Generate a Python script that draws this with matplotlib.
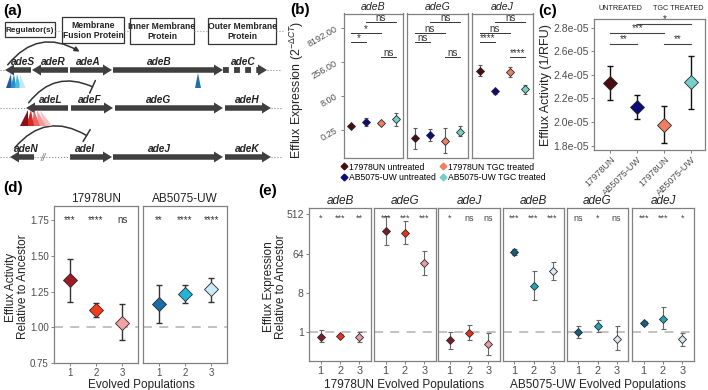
import matplotlib
matplotlib.use("Agg")

import matplotlib.pyplot as plt
from matplotlib import font_manager
from matplotlib.lines import Line2D
from matplotlib.patches import FancyArrow, FancyArrowPatch, Polygon, Rectangle, ArrowStyle

plt.rcParams["font.family"] = ["Liberation Sans", "DejaVu Sans"]
plt.rcParams["mathtext.fontset"] = "custom"
plt.rcParams["mathtext.rm"] = "Liberation Sans"
plt.rcParams["mathtext.it"] = "Liberation Sans:italic"

installed = {f.name for f in font_manager.fontManager.ttflist}
NARROW = "Liberation Sans Narrow" if "Liberation Sans Narrow" in installed else "Liberation Sans"
NARROW_SCALE = 1.0 if NARROW != "Liberation Sans" else 0.85

W, H = 708, 390

# ---------------- (a) operon schematic ----------------
BOX_LABELS = ["Regulator(s)", "Membrane\nFusion Protein", "Inner Membrane\nProtein", "Outer Membrane\nProtein"]
# (gene, arrow start, arrow end, label x)
ROW_ADEABC = [("adeS", 31, 5, 23), ("adeR", 68, 32, 53), ("adeA", 70, 112, 88), ("adeB", 113, 223, 159)]
ROW_ADEFGH = [("adeL", 68, 26, 51), ("adeF", 71, 113, 90), ("adeG", 115, 223, 159), ("adeH", 225, 271, 247)]
ROW_ADEIJK = [("adeN", 34, 10, 26), ("adeI", 70, 112, 85), ("adeJ", 113, 223, 159), ("adeK", 225, 271, 247)]
ADES_MUT_COLORS = ["#1F5C9E", "#2B8FCB", "#45BEDD", "#C6E6F6"]
ADEL_MUT_COLORS = ["#8C0F1C", "#D42A22", "#EE6464", "#F59B9B", "#F7C2C2"]

# ---------------- (b) expression in ancestors ----------------
B_GROUPS = ["17978UN untreated", "AB5075-UW untreated", "17978UN TGC treated", "AB5075-UW TGC treated"]
B_COLORS = ["#4A0C10", "#0B0B7A", "#EE7F62", "#76CFCB"]
B_GENES = ["adeB", "adeG", "adeJ"]
B_ADEB_MEAN = [0.38, 0.58, 0.52, 0.74]
B_ADEB_LO = [0.33, 0.38, 0.47, 0.38]
B_ADEB_HI = [0.43, 0.83, 0.58, 1.41]
B_ADEG_MEAN = [0.11, 0.15, 0.083, 0.21]
B_ADEG_LO = [0.036, 0.083, 0.024, 0.134]
B_ADEG_HI = [0.31, 0.27, 0.31, 0.38]
B_ADEJ_MEAN = [103, 12.9, 92, 16]
B_ADEJ_LO = [60, 9.8, 56, 9.8]
B_ADEJ_HI = [181, 17.1, 147, 24]
B_PAIRS = [(1, 2), (1, 3), (2, 4), (3, 4)]
B_PAIR_Y = [1910, 4700, 15280, 416]
B_SIG = {"adeB": ["*", "*", "ns", "ns"],
         "adeG": ["ns", "ns", "ns", "ns"],
         "adeJ": ["****", "ns", "ns", "****"]}
B_TICKS = [0.25, 8, 256, 8192]
B_TICKLABELS = ["0.25", "8.00", "256.00", "8192.00"]

# ---------------- (c) efflux activity ----------------
C_LABELS = ["17978UN", "AB5075-UW", "17978UN", "AB5075-UW"]
C_MEAN = [2.333e-5, 2.131e-5, 1.976e-5, 2.338e-5]
C_LO = [2.187e-5, 2.030e-5, 1.823e-5, 2.114e-5]
C_HI = [2.478e-5, 2.229e-5, 2.136e-5, 2.556e-5]
C_PAIRS = [(1, 2), (3, 4), (1, 3), (2, 4)]
C_PAIR_Y = [2.66e-5, 2.66e-5, 2.758e-5, 2.831e-5]
C_SIG = ["**", "**", "***", "*"]

# ---------------- (d) relative efflux activity ----------------
D_STRAINS = ["17978UN", "AB5075-UW"]
D_POPS = [1, 2, 3]
D_UN_MEAN = [1.330, 1.121, 1.032]
D_UN_LO = [1.175, 1.074, 0.911]
D_UN_HI = [1.482, 1.172, 1.160]
D_UW_MEAN = [1.163, 1.233, 1.265]
D_UW_LO = [1.028, 1.168, 1.179]
D_UW_HI = [1.295, 1.295, 1.349]
D_UN_SIG = ["***", "****", "ns"]
D_UW_SIG = ["**", "****", "****"]
UN_COLORS_D = ["#9E1A24", "#F23C1C", "#F4A1A4"]
UW_COLORS_D = ["#1B6DAA", "#26B3D8", "#CBE9F8"]

# ---------------- (e) relative expression ----------------
E_GENES = ["adeB", "adeG", "adeJ"]
E_UN_ADEB = ([0.79, 0.83, 0.79], [0.59, 0.78, 0.58], [1.09, 0.90, 1.0])
E_UN_ADEG = ([212, 190, 39], [99, 105, 21], [461, 355, 72])
E_UN_ADEJ = ([0.64, 0.97, 0.54], [0.41, 0.66, 0.30], [1.0, 1.47, 0.95])
E_UW_ADEB = ([69, 11.3, 25], [58, 5.4, 15.6], [82, 25, 40])
E_UW_ADEG = ([1.0, 1.40, 0.69], [0.73, 1.0, 0.38], [1.35, 1.92, 1.35])
E_UW_ADEJ = ([1.61, 2.03, 0.69], [1.42, 1.17, 0.49], [1.83, 3.68, 0.95])
E_UN_SIG = [["*", "***", "**"], ["***", "***", "***"], ["*", "ns", "ns"]]
E_UW_SIG = [["***", "***", "***"], ["ns", "*", "ns"], ["***", "***", "*"]]
UN_COLORS_E = ["#7B1C2C", "#E8321F", "#E89AA5"]
UW_COLORS_E = ["#14607F", "#24A5B5", "#DCE9F2"]
E_TICKS = [1, 8, 64, 512]

BORDER = "#808080"
TICKCOL = "#4D4D4D"
EDGE = "#2A2A2A"

fig = plt.figure(figsize=(W / 100, H / 100), dpi=100)


def px_axes(x0, y0, x1, y1):
    return fig.add_axes([x0 / W, 1 - y1 / H, (x1 - x0) / W, (y1 - y0) / H])


def ftext(x, y, s, **kw):
    return fig.text(x / W, 1 - y / H, s, **kw)


def style_panel(ax, show_y=True, labelsize=7.5):
    for sp in ax.spines.values():
        sp.set_color(BORDER)
        sp.set_linewidth(0.9)
    ax.tick_params(colors=BORDER, labelcolor=TICKCOL, length=2.5, width=0.7,
                   labelsize=labelsize, pad=1.2)
    if not show_y:
        ax.tick_params(axis="y", left=False, labelleft=False)
    ax.minorticks_off()


def diamonds(ax, x, mean, lo, hi, colors, ms, ecolor, capsize, elw=0.9):
    yerr = [[m - l for m, l in zip(mean, lo)], [h - m for m, h in zip(mean, hi)]]
    ax.errorbar(x, mean, yerr=yerr, fmt="none", ecolor=ecolor, elinewidth=elw,
                capsize=capsize, capthick=elw, zorder=2)
    for xi, yi, c in zip(x, mean, colors):
        ax.plot([xi], [yi], marker="D", ms=ms, mfc=c, mec=EDGE, mew=0.6, ls="none", zorder=3)


# ================= (a) =================
axa = px_axes(0, 0, 290, 178)
axa.set_xlim(0, 290)
axa.set_ylim(178, 0)
axa.axis("off")

box_pos = [(5, 22, 55, 37), (62, 17, 124, 43), (130, 18, 194, 44), (208, 18, 276, 44)]
for (x0, y0, x1, y1), lab in zip(box_pos, BOX_LABELS):
    axa.add_patch(Rectangle((x0, y0), x1 - x0, y1 - y0, fill=False, ec="#333333", lw=0.9))
    size = 6.9 if "\n" not in lab else 7.3
    axa.text((x0 + x1) / 2, (y0 + y1) / 2 + 0.5, lab, ha="center", va="center", family=NARROW,
             fontsize=size * NARROW_SCALE, fontweight="bold", color="#222222", linespacing=1.15)
for xa, xb in [(55, 62), (124, 130), (194, 208), (276, 284)]:
    axa.plot([xa, xb], [31, 31], ls=":", color="#999999", lw=0.8)


def gene_row(rows, y, label_dy=-8):
    for name, xs, xe, lx in rows:
        axa.add_patch(FancyArrow(xs, y, xe - xs, 0, width=5.5, head_width=11, head_length=9,
                                 length_includes_head=True, color="#3F3F3F", lw=0))
        axa.text(lx, y + label_dy, name, ha="center", va="center",
                 fontsize=7.3, fontstyle="italic", fontweight="bold", color="#222222")


gene_row(ROW_ADEABC, 70)
gene_row(ROW_ADEFGH, 108)
gene_row(ROW_ADEIJK, 157)

# adeC: dotted body + arrowhead
axa.plot([223, 258], [70, 70], color="#3F3F3F", lw=4.2, ls=(0, (1.0, 0.9)), solid_capstyle="butt")
axa.add_patch(Polygon([[258, 64.5], [267, 70], [258, 75.5]], closed=True, color="#3F3F3F", lw=0))
axa.text(243, 62, "adeC", ha="center", va="center", fontsize=7.3, fontstyle="italic",
         fontweight="bold", color="#222222")

# dotted connectors
for xa, xb, y in [(0, 5, 70), (267, 280, 70), (0, 26, 108), (271, 282, 108),
                  (0, 10, 157), (34, 70, 157), (271, 282, 157)]:
    axa.plot([xa, xb], [y, y], ls=":", color="#8A8A8A", lw=0.8)
axa.text(43, 158, "//", ha="center", va="center", fontsize=7, color="#777777", fontstyle="italic")

# regulatory arcs
axa.add_patch(FancyArrowPatch((6, 67), (82, 53), connectionstyle="arc3,rad=-0.45",
                              arrowstyle="-|>", mutation_scale=7, color="#333333", lw=1.1))
axa.add_patch(FancyArrowPatch((27, 105), (95, 88), connectionstyle="arc3,rad=-0.42",
                              arrowstyle=ArrowStyle("-[", widthB=0.5, lengthB=0.0),
                              mutation_scale=10, color="#333333", lw=1.1))
axa.add_patch(FancyArrowPatch((13, 150), (89, 137), connectionstyle="arc3,rad=-0.45",
                              arrowstyle=ArrowStyle("-[", widthB=0.5, lengthB=0.0),
                              mutation_scale=10, color="#333333", lw=1.1))

# mutation triangles
for k, c in enumerate(ADES_MUT_COLORS):
    ax_ = 11 + 3 * k
    bx = 9 + 4.5 * k
    axa.add_patch(Polygon([[ax_, 74], [bx - 3, 88], [bx + 3, 88]], closed=True, fc=c, ec="none"))
axa.add_patch(Polygon([[198, 73], [195, 88], [201, 88]], closed=True, fc="#1F6FAE", ec="none"))
for k, c in enumerate(ADEL_MUT_COLORS[::-1]):
    kk = 4 - k
    ax_ = 28 + 3 * kk
    bx = 24 + 6 * kk
    axa.add_patch(Polygon([[ax_, 110], [bx - 4, 126], [bx + 4, 126]], closed=True, fc=c, ec="none"))

ftext(3, 11, "(a)", fontsize=11, fontweight="bold", va="center")

# ================= (b) =================
b_boxes = [(344, 13.5, 403, 158), (407, 13.5, 468, 158), (472, 13.5, 533, 158)]
b_data = [(B_ADEB_MEAN, B_ADEB_LO, B_ADEB_HI), (B_ADEG_MEAN, B_ADEG_LO, B_ADEG_HI),
          (B_ADEJ_MEAN, B_ADEJ_LO, B_ADEJ_HI)]
xb = [1, 2, 3, 4]
for i, (box, gene, (m, lo, hi)) in enumerate(zip(b_boxes, B_GENES, b_data)):
    ax = px_axes(*box)
    ax.set_yscale("log", base=2)
    ax.set_ylim(0.0144, 35900)
    ax.set_xlim(0.5, 4.5)
    diamonds(ax, xb, m, lo, hi, B_COLORS, 3.8, "#5A5A5A", 1.5, elw=0.8)
    for (p, q), yy, s in zip(B_PAIRS, B_PAIR_Y, B_SIG[gene]):
        ax.plot([p, q], [yy, yy], color="#333333", lw=0.7)
        ax.annotate(s, ((p + q) / 2, yy), xytext=(0, 0.8), textcoords="offset points",
                    ha="center", va="baseline", fontsize=7, color="#333333")
    ax.set_xticks([])
    style_panel(ax, show_y=(i == 0))
    ax.set_yticks(B_TICKS)
    ax.set_yticklabels(B_TICKLABELS if i == 0 else [], rotation=30, fontsize=6.6)
    ax.minorticks_off()
    ftext((box[0] + box[2]) / 2, 9.5, gene, ha="center", va="baseline", fontsize=7.6,
          fontstyle="italic", color="#222222")

ftext(290, 10, "(b)", fontsize=11, fontweight="bold", va="center")
ftext(297, 90, r"Efflux Expression (2$^{-\Delta CT}$)", rotation=90, ha="center", va="center",
      fontsize=8.9, color="#222222")
handles = [Line2D([], [], marker="D", ls="none", ms=3.4, mfc=c, mec=c) for c in B_COLORS]
fig.legend(handles, B_GROUPS, ncol=2, loc="upper left", bbox_to_anchor=(340 / W, 1 - 162.5 / H),
           frameon=False, fontsize=6.2, handletextpad=0.05, columnspacing=0.3,
           labelspacing=0.15, handlelength=1.0, borderpad=0, borderaxespad=0)

# ================= (c) =================
axc = px_axes(594, 19, 705, 150)
axc.set_xlim(0.4, 4.5)
axc.set_ylim(1.764e-5, 2.873e-5)
diamonds(axc, xb, C_MEAN, C_LO, C_HI, B_COLORS, 7.3, "#111111", 2.5, elw=1.0)
for (p, q), yy, s in zip(C_PAIRS, C_PAIR_Y, C_SIG):
    axc.plot([p, q], [yy, yy], color="#444444", lw=0.8)
    axc.annotate(s, ((p + q) / 2, yy), xytext=(0, 0), textcoords="offset points",
                 ha="center", va="bottom", fontsize=7, color="#333333")
style_panel(axc)
axc.set_yticks([1.8e-5, 2.0e-5, 2.2e-5, 2.4e-5, 2.6e-5, 2.8e-5])
axc.set_yticklabels(["1.8e-05", "2.0e-05", "2.2e-05", "2.4e-05", "2.6e-05", "2.8e-05"], fontsize=7.5)
axc.set_xticks(xb)
axc.set_xticklabels(C_LABELS, rotation=45, ha="right", rotation_mode="anchor", fontsize=6.6)
ftext(538, 11, "(c)", fontsize=11, fontweight="bold", va="center")
head_size = 6.0 if NARROW_SCALE == 1.0 else 5.2
ftext(620, 8, "UNTREATED", ha="center", va="center", fontsize=head_size, color="#222222", family=NARROW)
ftext(678, 8, "TGC TREATED", ha="center", va="center", fontsize=head_size, color="#222222", family=NARROW)
ftext(546, 85, "Efflux Activity (1/RFU)", rotation=90, ha="center", va="center",
      fontsize=9, color="#222222")

# ================= (d) =================
d_boxes = [(54, 206, 138, 363), (143, 206, 227, 363)]
d_data = [(D_UN_MEAN, D_UN_LO, D_UN_HI, UN_COLORS_D, D_UN_SIG),
          (D_UW_MEAN, D_UW_LO, D_UW_HI, UW_COLORS_D, D_UW_SIG)]
for i, (box, strain, (m, lo, hi, cols, sig)) in enumerate(zip(d_boxes, D_STRAINS, d_data)):
    ax = px_axes(*box)
    ax.set_xlim(0.4, 3.6)
    ax.set_ylim(0.75, 1.85)
    ax.axhline(1.0, color="#BDBDBD", lw=1.3, ls=(0, (5, 4)), zorder=1)
    diamonds(ax, D_POPS, m, lo, hi, cols, 7.0, "#333333", 2.3, elw=1.0)
    for xp, s in zip(D_POPS, sig):
        ax.text(xp, 1.75, s, ha="center", va="center", fontsize=7, color="#333333")
    style_panel(ax, show_y=(i == 0), labelsize=7)
    ax.set_xticks(D_POPS)
    ax.set_yticks([0.75, 1.00, 1.25, 1.50, 1.75])
    ax.set_yticklabels(["0.75", "1.00", "1.25", "1.50", "1.75"])
    ax.set_title(strain, fontsize=8.5, color="#222222", pad=3)

ftext(3, 188, "(d)", fontsize=11, fontweight="bold", va="center")
ftext(17, 287, "Efflux Activity\nRelative to Ancestor", rotation=90, ha="center", va="center",
      fontsize=8.5, color="#222222", linespacing=1.0)
ftext(141, 388, "Evolved Populations", ha="center", va="baseline", fontsize=8.5, color="#222222")

# ================= (e) =================
e_boxes = [(309, 208, 371, 361), (374, 208, 436, 361), (438, 208, 500, 361),
           (503, 208, 564, 361), (567, 208, 628, 361), (632, 208, 694, 361)]
e_sets = [(E_UN_ADEB, UN_COLORS_E, E_UN_SIG[0]), (E_UN_ADEG, UN_COLORS_E, E_UN_SIG[1]),
          (E_UN_ADEJ, UN_COLORS_E, E_UN_SIG[2]), (E_UW_ADEB, UW_COLORS_E, E_UW_SIG[0]),
          (E_UW_ADEG, UW_COLORS_E, E_UW_SIG[1]), (E_UW_ADEJ, UW_COLORS_E, E_UW_SIG[2])]
for i, (box, ((m, lo, hi), cols, sig)) in enumerate(zip(e_boxes, e_sets)):
    ax = px_axes(*box)
    ax.set_yscale("log", base=2)
    ax.set_ylim(0.216, 714)
    ax.set_xlim(0.4, 3.6)
    ax.axhline(1.0, color="#BDBDBD", lw=1.3, ls=(0, (5, 4)), zorder=1)
    diamonds(ax, D_POPS, m, lo, hi, cols, 4.3, "#666666", 1.8, elw=0.8)
    for xp, s in zip(D_POPS, sig):
        ax.text(xp, 410, s, ha="center", va="center", fontsize=6.5, color="#444444")
    style_panel(ax, show_y=(i == 0))
    ax.set_xticks(D_POPS)
    ax.tick_params(axis="x", labelsize=7.8, pad=0.8)
    ax.set_yticks(E_TICKS)
    ax.set_yticklabels(["1", "8", "64", "512"] if i == 0 else [])
    ax.minorticks_off()
    ax.set_title(E_GENES[i % 3], fontsize=8.5, fontstyle="italic", color="#222222", pad=3)

ftext(258, 191, "(e)", fontsize=11, fontweight="bold", va="center")
ftext(275, 287, "Efflux Expression\nRelative to Ancestor", rotation=90, ha="center", va="center",
      fontsize=8.5, color="#222222", linespacing=1.0)
ftext(404, 388, "17978UN Evolved Populations", ha="center", va="baseline", fontsize=8.5, color="#222222")
ftext(598, 388, "AB5075-UW Evolved Populations", ha="center", va="baseline", fontsize=8.5, color="#222222")

fig.savefig("out.png", dpi=100)
